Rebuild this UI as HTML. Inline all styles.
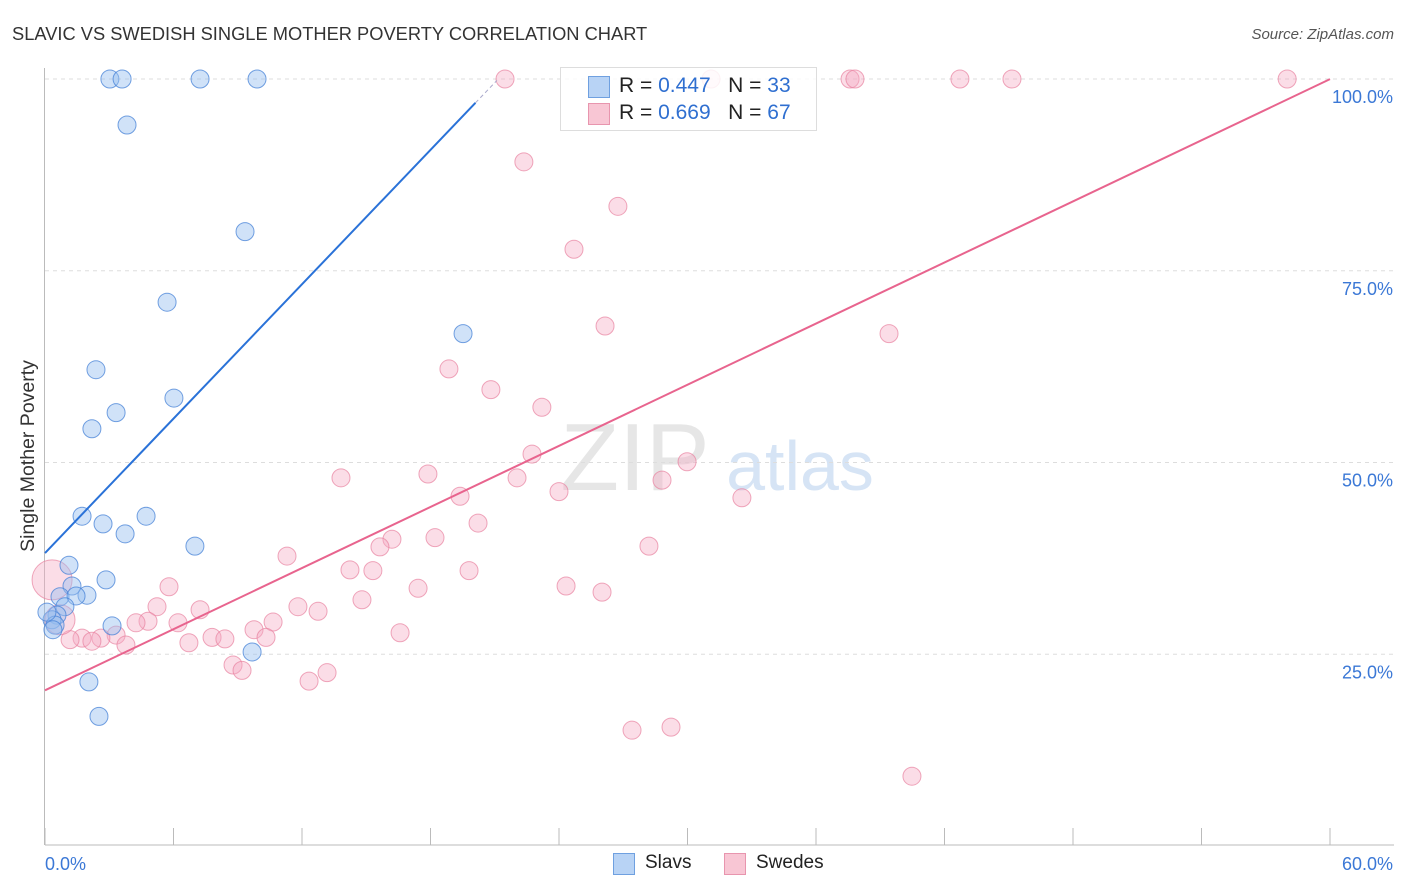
<!DOCTYPE html>
<html><head><meta charset="utf-8"><style>
body{margin:0;background:#fff;font-family:"Liberation Sans",sans-serif;}
#wrap{position:relative;width:1406px;height:892px;overflow:hidden;}
svg text{font-family:"Liberation Sans",sans-serif;}
</style></head><body>
<div id="wrap">
<svg id="chart" width="1406" height="892">
<text x="12" y="40" font-size="18.3" fill="#333">SLAVIC VS SWEDISH SINGLE MOTHER POVERTY CORRELATION CHART</text>
<text x="1394" y="39" font-size="15" fill="#555" font-style="italic" text-anchor="end">Source: ZipAtlas.com</text>
<text x="635" y="490" font-size="96" fill="#e6e6e6" font-family="Liberation Serif" text-anchor="middle">ZIP</text>
<text x="800" y="490" font-size="70" fill="#d6e4f5" text-anchor="middle">atlas</text>
<text transform="translate(34,456) rotate(-90)" font-size="19.5" fill="#333" text-anchor="middle">Single Mother Poverty</text>
<g id="grid"></g><g id="marks"></g>
</svg>
<div style="position:absolute;left:560px;top:67px;width:255px;height:62px;border:1px solid #ddd;background:rgba(255,255,255,0.85);font-size:21px;">
 <div style="position:absolute;left:27px;top:8px;width:20px;height:20px;background:#b8d3f5;border:1px solid #6fa0e0;"></div>
 <div style="position:absolute;left:58px;top:6px;color:#222;">R = <span style="color:#2f6fd0">0.447</span>&nbsp;&nbsp;&nbsp;N = <span style="color:#2f6fd0">33</span></div>
 <div style="position:absolute;left:27px;top:35px;width:20px;height:20px;background:#f8c6d4;border:1px solid #e895ae;"></div>
 <div style="position:absolute;left:58px;top:33px;color:#222;">R = <span style="color:#2f6fd0">0.669</span>&nbsp;&nbsp;&nbsp;N = <span style="color:#2f6fd0">67</span></div>
</div>
<div style="position:absolute;left:613px;top:853px;width:20px;height:20px;background:#b8d3f5;border:1px solid #6fa0e0;"></div>
<div style="position:absolute;left:645px;top:852px;font-size:19px;color:#222;">Slavs</div>
<div style="position:absolute;left:724px;top:853px;width:20px;height:20px;background:#f8c6d4;border:1px solid #e895ae;"></div>
<div style="position:absolute;left:756px;top:852px;font-size:19px;color:#222;">Swedes</div>
</div>
<script>
const slavX=[3.03,3.60,7.24,9.90,3.83,9.34,5.70,19.52,2.38,6.02,3.32,2.19,1.73,4.72,2.71,3.74,7.00,1.12,2.85,1.26,0.70,1.96,1.45,0.93,0.56,0.33,0.47,0.37,3.13,9.67,2.05,2.52,0.09];
const slavY=[100,100,100,100,94.0,80.1,70.9,66.8,62.1,58.4,56.5,54.4,43.0,43.0,42.0,40.7,39.1,36.6,34.7,33.9,32.5,32.7,32.6,31.2,30.1,29.5,28.8,28.2,28.7,25.3,21.4,16.9,30.5];
const sweX=[21.48,31.10,37.59,37.82,42.72,45.15,58.0,22.36,26.75,24.70,26.15,39.41,18.86,20.82,23.20,22.74,29.98,13.82,17.88,22.04,28.81,19.38,24.00,32.54,20.22,16.20,18.21,15.64,28.20,11.30,14.24,15.31,19.80,5.79,24.33,17.42,26.01,14.80,5.23,11.81,12.75,7.24,4.81,6.21,4.25,10.65,9.76,16.58,3.32,2.61,1.73,1.17,2.19,7.80,8.40,10.32,3.78,6.72,8.78,9.20,13.17,12.33,27.41,29.23,40.48,0.33,0.70];
const sweY=[100,100,100,100,100,100,100,89.2,83.4,77.8,67.8,66.8,62.2,59.5,57.2,51.1,50.1,48.0,48.5,48.0,47.7,45.6,46.2,45.4,42.1,40.0,40.2,39.0,39.1,37.8,36.0,35.9,35.9,33.8,33.9,33.6,33.1,32.1,31.2,31.2,30.6,30.8,29.3,29.1,29.1,29.2,28.2,27.8,27.5,27.1,27.1,26.9,26.7,27.2,27.0,27.2,26.2,26.5,23.6,22.9,22.6,21.5,15.1,15.5,9.1,34.7,29.5];
const sweR=[9,9,9,9,9,9,9,9,9,9,9,9,9,9,9,9,9,9,9,9,9,9,9,9,9,9,9,9,9,9,9,9,9,9,9,9,9,9,9,9,9,9,9,9,9,9,9,9,9,9,9,9,9,9,9,9,9,9,9,9,9,9,9,9,9,20,15];
const yTicks=[25,50,75,100];
const yTickLabels=["25.0%","50.0%","75.0%","100.0%"];
const xTicks=[0,6,12,18,24,30,36,42,48,54,60];
const slavTrend=[38.2,2.92];
const sweTrend=[20.3,1.328];
const NS="http://www.w3.org/2000/svg";
const sx=v=>45+v/60*1285, sy=v=>846-v*7.67;
function mk(tag,attrs,parent){const e=document.createElementNS(NS,tag);for(const k in attrs)e.setAttribute(k,attrs[k]);parent.appendChild(e);return e;}
const grid=document.getElementById('grid'), marks=document.getElementById('marks');
yTicks.forEach((t,i)=>{
 const l=mk('line',{x1:45,x2:1394,y1:sy(t),y2:sy(t),stroke:'#ddd','stroke-dasharray':'4,4'},grid);
 
 
 const tx=mk('text',{x:1393,y:sy(t)+24,'font-size':18,fill:'#3b78d6','text-anchor':'end'},grid);
 tx.textContent=yTickLabels[i];
 
 
});
const ax=mk('line',{x1:45,x2:1394,y1:845,y2:845,stroke:'#bbb'},grid);


const ay=mk('line',{x1:44.5,x2:44.5,y1:68,y2:845,stroke:'#bbb'},grid);


xTicks.forEach(t=>{
 const l=mk('line',{x1:sx(t),x2:sx(t),y1:828,y2:845,stroke:'#bbb'},grid);
 
 
});
const xl0=mk('text',{x:45,y:870,'font-size':18,fill:'#3b78d6'},grid);xl0.textContent=xTicks[0].toFixed(1)+'%';


const xl1=mk('text',{x:1393,y:870,'font-size':18,fill:'#3b78d6','text-anchor':'end'},grid);xl1.textContent=xTicks[xTicks.length-1].toFixed(1)+'%';


sweX.forEach((x,i)=>{
 const c=mk('circle',{cx:sx(x),cy:sy(sweY[i]),r:sweR[i],fill:'rgba(246,170,195,0.4)',stroke:'rgba(232,130,160,0.7)','stroke-width':1},marks);
 
 
});
slavX.forEach((x,i)=>{
 const c=mk('circle',{cx:sx(x),cy:sy(slavY[i]),r:9,fill:'rgba(150,190,240,0.45)',stroke:'rgba(70,130,215,0.75)','stroke-width':1},marks);
 
 
});
const bx1=20.1, bx2=21.1;
const bl=mk('line',{x1:sx(0),y1:sy(slavTrend[0]),x2:sx(bx1),y2:sy(slavTrend[0]+slavTrend[1]*bx1),stroke:'#2a72d8','stroke-width':2},marks);


const bd=mk('line',{x1:sx(bx1),y1:sy(slavTrend[0]+slavTrend[1]*bx1),x2:sx(bx2),y2:sy(slavTrend[0]+slavTrend[1]*bx2),stroke:'#aac','stroke-width':1,'stroke-dasharray':'4,3'},marks);


const pl=mk('line',{x1:sx(0),y1:sy(sweTrend[0]),x2:sx(60),y2:sy(sweTrend[0]+sweTrend[1]*60),stroke:'#e8648e','stroke-width':2},marks);


</script>
</body></html>
